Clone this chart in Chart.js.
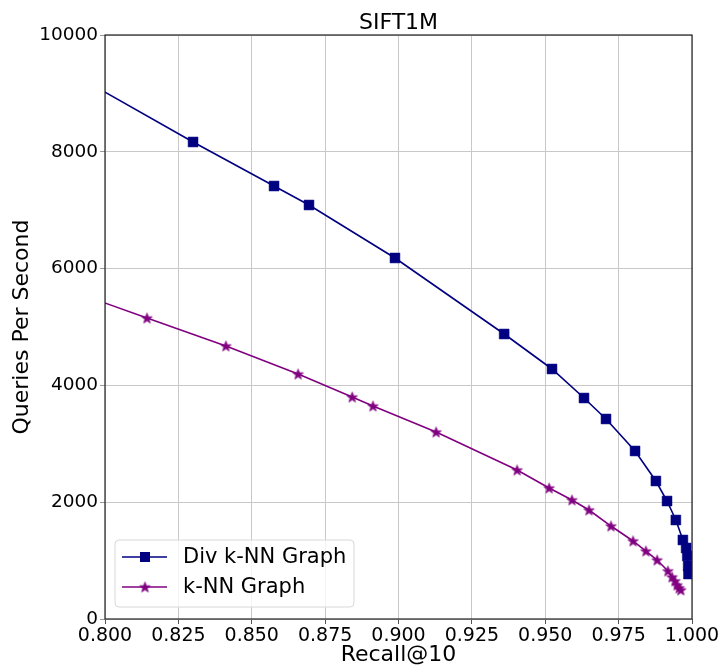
<!DOCTYPE html>
<html>
<head>
<meta charset="utf-8">
<script src="https://cdn.jsdelivr.net/npm/chart.js@4/dist/chart.umd.min.js"></script>
<style>
html,body{margin:0;padding:0;background:#fff;}
#wrap{width:719px;height:666px;}
</style>
</head>
<body>
<div id="wrap"><canvas id="c" width="719" height="666"></canvas></div>
<script>
const titleText = "SIFT1M";
const xTitle = "Recall@10";
const yTitle = "Queries Per Second";
const seriesNames = ["Div k-NN Graph", "k-NN Graph"];

const divRecall = [0.790, 0.830, 0.8576, 0.8695, 0.8988, 0.936, 0.9523, 0.9632, 0.9707, 0.9806, 0.9877, 0.9915, 0.9945, 0.9969, 0.998, 0.9984, 0.9987, 0.9988];
const divQps    = [9305, 8168, 7414, 7089, 6182, 4880, 4281, 3784, 3425, 2877, 2363, 2020, 1695, 1353, 1216, 1080, 908, 770];

const knnRecall = [0.790, 0.8143, 0.8412, 0.8658, 0.8842, 0.8913, 0.9128, 0.9404, 0.9513, 0.9591, 0.9649, 0.9724, 0.9799, 0.9843, 0.9881, 0.9918, 0.9932, 0.9942, 0.9949, 0.9956, 0.9962];
const knnQps    = [5590, 5154, 4675, 4195, 3801, 3647, 3202, 2551, 2243, 2038, 1866, 1592, 1336, 1164, 1010, 822, 719, 651, 582, 531, 497];

const xTicks = [0.800, 0.825, 0.850, 0.875, 0.900, 0.925, 0.950, 0.975, 1.000];
const yTicks = [0, 2000, 4000, 6000, 8000, 10000];

const BLUE = '#000080';
const PURPLE = '#800080';
const FONT = "'DejaVu Sans', sans-serif";

function starCanvas(color, r) {
  const s = Math.ceil(r * 2 + 2);
  const cv = document.createElement('canvas');
  cv.width = s; cv.height = s;
  const g = cv.getContext('2d');
  const cx = s / 2, cy = s / 2 + 0.5;
  g.beginPath();
  for (let i = 0; i < 10; i++) {
    const rad = i % 2 === 0 ? r : r * 0.4;
    const a = -Math.PI / 2 + i * Math.PI / 5;
    const px = cx + rad * Math.cos(a), py = cy + rad * Math.sin(a);
    if (i === 0) g.moveTo(px, py); else g.lineTo(px, py);
  }
  g.closePath();
  g.fillStyle = color;
  g.fill();
  g.strokeStyle = color;
  g.lineWidth = 0.8;
  g.stroke();
  return cv;
}
const star = starCanvas(PURPLE, 5.5);

const frame = {
  id: 'frame',
  afterDatasetsDraw(chart) {
    const a = chart.chartArea, ctx = chart.ctx;
    ctx.save();
    ctx.strokeStyle = '#222';
    ctx.lineWidth = 1.2;
    ctx.strokeRect(a.left, a.top, a.right - a.left, a.bottom - a.top);
    ctx.restore();
  },
  afterDraw(chart) {
    const ctx = chart.ctx;
    const a = chart.chartArea;
    ctx.save();
    // title centred over the plot area
    ctx.fillStyle = '#000';
    ctx.font = "22px " + FONT;
    ctx.textAlign = 'center';
    ctx.textBaseline = 'alphabetic';
    ctx.fillText(titleText, (a.left + a.right) / 2, a.top - 6);
    // legend box
    const bx = a.left + 10, by = a.bottom - 79, bw = 239, bh = 67;
    ctx.beginPath();
    const r = 4;
    ctx.moveTo(bx + r, by);
    ctx.arcTo(bx + bw, by, bx + bw, by + bh, r);
    ctx.arcTo(bx + bw, by + bh, bx, by + bh, r);
    ctx.arcTo(bx, by + bh, bx, by, r);
    ctx.arcTo(bx, by, bx + bw, by, r);
    ctx.closePath();
    ctx.fillStyle = 'rgba(255,255,255,0.8)';
    ctx.fill();
    ctx.strokeStyle = '#d8d8d8';
    ctx.lineWidth = 1;
    ctx.stroke();
    const rows = [
      {y: by + 17, color: BLUE, name: seriesNames[0], m: 'rect'},
      {y: by + 47, color: PURPLE, name: seriesNames[1], m: 'star'}
    ];
    rows.forEach(row => {
      ctx.strokeStyle = row.color;
      ctx.lineWidth = 1.6;
      ctx.beginPath();
      ctx.moveTo(bx + 7, row.y);
      ctx.lineTo(bx + 52, row.y);
      ctx.stroke();
      if (row.m === 'rect') {
        ctx.fillStyle = row.color;
        ctx.fillRect(bx + 30 - 5, row.y - 5, 10, 10);
      } else {
        ctx.drawImage(star, bx + 30 - star.width / 2, row.y - star.height / 2);
      }
      ctx.fillStyle = '#000';
      ctx.font = "21px " + FONT;
      ctx.textBaseline = 'middle';
      ctx.textAlign = 'left';
      ctx.fillText(row.name, bx + 68, row.y + 1);
    });
    ctx.restore();
  }
};

new Chart(document.getElementById('c'), {
  type: 'line',
  data: {
    datasets: [
      {
        label: seriesNames[0],
        data: divRecall.map((x, i) => ({x: x, y: divQps[i]})),
        borderColor: BLUE,
        backgroundColor: BLUE,
        borderWidth: 1.6,
        pointStyle: 'rect',
        pointRadius: 7,
        pointBorderWidth: 0.5,
        pointHoverRadius: 7,
        tension: 0,
        fill: false
      },
      {
        label: seriesNames[1],
        data: knnRecall.map((x, i) => ({x: x, y: knnQps[i]})),
        borderColor: PURPLE,
        backgroundColor: PURPLE,
        borderWidth: 1.6,
        pointStyle: star,
        pointRadius: 6,
        tension: 0,
        fill: false
      }
    ]
  },
  options: {
    responsive: false,
    animation: false,
    events: [],
    layout: {padding: {left: 0, right: 27, top: 35, bottom: 0}},
    plugins: {
      legend: {display: false},
      tooltip: {enabled: false},
      title: {display: false}
    },
    scales: {
      x: {
        type: 'linear',
        min: 0.8,
        max: 1.0,
        afterBuildTicks(scale) { scale.ticks = xTicks.map(v => ({value: v})); },
        afterFit(scale) { scale.height = 47; scale.paddingLeft = 0; scale.paddingRight = 0; },
        ticks: {
          color: '#000',
          font: {family: FONT, size: 19, lineHeight: 1.0},
          padding: 3,
          maxRotation: 0,
          autoSkip: false,
          callback: v => Number(v).toFixed(3)
        },
        grid: {color: '#c8c8c8', lineWidth: 1, tickLength: 5, tickColor: '#555'},
        border: {display: false},
        title: {
          display: true,
          text: xTitle,
          color: '#000',
          font: {family: FONT, size: 22, lineHeight: 1.0},
          padding: {top: 0, bottom: 0}
        }
      },
      y: {
        type: 'linear',
        min: 0,
        max: 10000,
        afterBuildTicks(scale) { scale.ticks = yTicks.map(v => ({value: v})); },
        afterFit(scale) { scale.width = 105; scale.paddingTop = 0; scale.paddingBottom = 0; },
        ticks: {
          color: '#000',
          font: {family: FONT, size: 18.5},
          padding: 2,
          callback: v => String(v)
        },
        grid: {color: '#c8c8c8', lineWidth: 1, tickLength: 5, tickColor: '#999'},
        border: {display: false},
        title: {
          display: true,
          text: yTitle,
          color: '#000',
          font: {family: FONT, size: 22},
          padding: {top: 9, bottom: 0}
        }
      }
    }
  },
  plugins: [frame]
});
</script>
</body>
</html>
